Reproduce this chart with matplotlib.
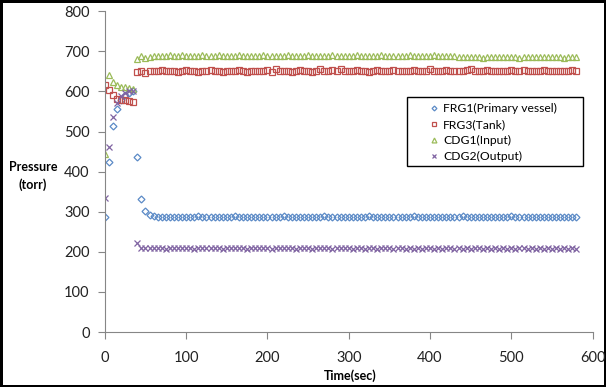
import numpy as np
from matplotlib import pyplot as plt
from matplotlib.patches import Rectangle

# sampling times (sec)
t_inicio = np.arange(0, 40, 5)
t_regime = np.arange(40, 585, 5)
tempo = np.concatenate([t_inicio, t_regime])

# FRG1 (Primary vessel)
frg1 = [286, 425, 514, 555, 578, 590, 597, 600,
        437, 333, 302, 292, 289, 288, 287, 286, 288, 287,
        288, 287, 286, 288, 287, 289, 287, 286, 288, 287,
        287, 288, 286, 287, 289, 287, 288, 286, 287, 288,
        288, 287, 286, 288, 287, 288, 289, 287, 286, 288,
        287, 288, 287, 286, 288, 287, 289, 288, 287, 286,
        288, 287, 288, 286, 287, 288, 287, 289, 287, 288,
        286, 287, 288, 287, 288, 286, 287, 288, 289, 287,
        288, 287, 286, 288, 287, 288, 287, 286, 288, 287,
        289, 287, 288, 286, 287, 288, 287, 288, 286, 287,
        288, 287, 289, 287, 288, 286, 287, 288, 287, 288,
        287, 286, 288, 287, 288, 287, 288, 287, 288]

# FRG3 (Tank)
frg3 = [616, 603, 590, 582, 579, 578, 576, 574,
        649, 652, 647, 651, 652, 650, 653, 651, 650, 652,
        649, 651, 653, 650, 652, 648, 651, 650, 653, 652,
        650, 649, 652, 651, 650, 653, 651, 649, 652, 650,
        651, 650, 653, 649, 655, 652, 650, 651, 648, 652,
        654, 650, 651, 649, 652, 656, 651, 650, 653, 651,
        655, 650, 652, 651, 654, 650, 652, 649, 651, 653,
        650, 652, 651, 654, 650, 652, 651, 650, 653, 651,
        652, 650, 655, 651, 650, 652, 653, 651, 650, 652,
        651, 653, 656, 652, 650, 651, 653, 650, 652, 651,
        650, 652, 654, 651, 650, 653, 651, 652, 650, 651,
        653, 650, 652, 651, 650, 652, 651, 653, 652]

# CDG1 (Input)
cdg1 = [444, 641, 624, 616, 612, 610, 608, 607,
        682, 688, 683, 686, 689, 689, 688, 689, 690, 689,
        689, 690, 689, 689, 688, 689, 690, 689, 689, 689,
        690, 689, 688, 689, 689, 690, 689, 689, 688, 689,
        689, 690, 689, 689, 689, 688, 689, 690, 689, 689,
        689, 689, 690, 689, 688, 689, 689, 689, 690, 689,
        689, 688, 689, 689, 690, 689, 689, 689, 688, 689,
        690, 689, 689, 689, 688, 689, 689, 690, 689, 689,
        689, 688, 689, 690, 689, 689, 689, 688, 689, 686,
        685, 685, 686, 685, 685, 684, 685, 686, 685, 685,
        685, 686, 685, 685, 684, 685, 685, 686, 685, 685,
        685, 685, 686, 685, 685, 684, 685, 685, 685]

# CDG2 (Output)
cdg2 = [334, 462, 535, 570, 588, 595, 600, 602,
        223, 210, 209, 209, 210, 209, 209, 208, 209, 209,
        210, 209, 209, 209, 208, 209, 210, 209, 209, 209,
        209, 208, 209, 210, 209, 209, 209, 208, 209, 209,
        210, 209, 209, 208, 209, 209, 209, 210, 209, 208,
        209, 209, 209, 208, 209, 210, 209, 209, 208, 209,
        209, 209, 210, 208, 209, 209, 208, 209, 209, 208,
        209, 210, 209, 208, 209, 209, 208, 209, 208, 209,
        208, 209, 209, 208, 209, 208, 209, 209, 208, 209,
        208, 209, 208, 209, 209, 208, 209, 208, 209, 208,
        209, 208, 209, 208, 209, 209, 208, 209, 208, 209,
        208, 209, 208, 209, 208, 209, 208, 209, 208]

series = [
    (frg1, 'FRG1(Primary vessel)', 'D', '#5B8AC6', 3.5),
    (frg3, 'FRG3(Tank)', 's', '#C0504D', 5),
    (cdg1, 'CDG1(Input)', '^', '#9BBB59', 5),
    (cdg2, 'CDG2(Output)', 'x', '#8064A2', 4),
]

plt.rcParams['font.family'] = ['Lato', 'DejaVu Sans']

fig = plt.figure(figsize=(6.06, 3.87), dpi=100, linewidth=2.5, edgecolor='black')
ax = fig.add_axes([0.173, 0.142, 0.805, 0.829])

for valores, nome, marc, cor, tam in series:
    if marc == 'x':
        ax.plot(tempo, valores, linestyle='none', marker=marc, color=cor,
                markersize=tam, markeredgewidth=0.9, label=nome)
    else:
        ax.plot(tempo, valores, linestyle='none', marker=marc, markerfacecolor='none',
                markeredgecolor=cor, markersize=tam, markeredgewidth=0.9, label=nome)

ax.set_xlim(0, 600)
ax.set_ylim(0, 800)
ax.set_xticks(range(0, 601, 100))
ax.set_yticks(range(0, 801, 100))

for lado in ['top', 'right']:
    ax.spines[lado].set_visible(False)
for lado in ['left', 'bottom']:
    ax.spines[lado].set_color('#868686')
ax.tick_params(direction='out', length=5, color='#868686', labelsize=10.5,
               labelcolor='#222222')
ax.tick_params(axis='y', pad=6)
ax.tick_params(axis='x', pad=9)

fig.text(33 / 606, 0.545, 'Pressure\n(torr)', fontsize=9, fontweight='bold',
         ha='center', va='center', multialignment='center', linespacing=1.45)
fig.text(350 / 606, 0.018, 'Time(sec)', fontsize=9, fontweight='bold', ha='center')

# legenda sem moldura + caixa separada (como no Excel)
leg = ax.legend(loc='upper left', bbox_to_anchor=(423 / 606, 1 - 97 / 387),
                bbox_transform=fig.transFigure, fontsize=8.7, frameon=False,
                borderpad=0, handlelength=0.8, handletextpad=0.35,
                labelspacing=0.42, markerscale=0.7)
fig.patches.append(Rectangle((407 / 606, 1 - 166 / 387), 176 / 606, 69 / 387,
                             transform=fig.transFigure, fill=False,
                             edgecolor='black', linewidth=1.0))

fig.savefig('out.png', dpi=100, edgecolor=fig.get_edgecolor())
